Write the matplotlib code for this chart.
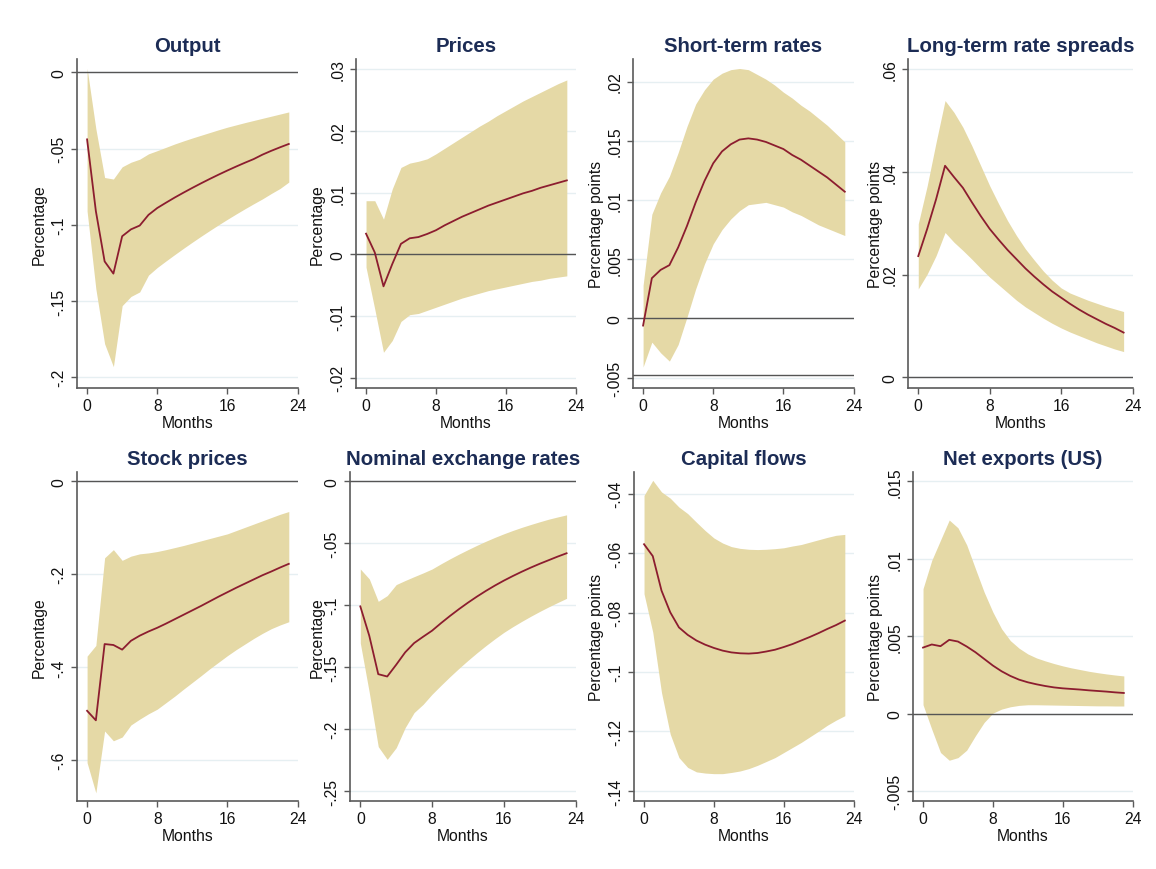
import matplotlib
matplotlib.use("Agg")
import matplotlib.pyplot as plt

plt.rcParams['font.family'] = ['Liberation Sans', 'DejaVu Sans']

months = list(range(24))
x_ticks = [0, 8, 16, 24]
x_tick_labels = ["0", "8", "16", "24"]

titles = ["Output", "Prices", "Short-term rates", "Long-term rate spreads",
          "Stock prices", "Nominal exchange rates", "Capital flows", "Net exports (US)"]
y_titles = ["Percentage", "Percentage", "Percentage points", "Percentage points",
            "Percentage", "Percentage", "Percentage points", "Percentage points"]

# ---- Output
output_irf = [-0.044, -0.091, -0.124, -0.132, -0.1075, -0.103, -0.1005, -0.0935, -0.089, -0.0855,
              -0.0821, -0.0789, -0.0758, -0.0728, -0.0699, -0.0671, -0.0644, -0.0618, -0.0593,
              -0.0569, -0.054, -0.0515, -0.0492, -0.047]
output_hi = [0.0026, -0.037, -0.069, -0.070, -0.062, -0.059, -0.057, -0.0535, -0.0514, -0.0492,
             -0.047, -0.045, -0.0431, -0.0413, -0.0395, -0.0377, -0.036, -0.0345, -0.033, -0.0316,
             -0.0302, -0.0288, -0.0274, -0.026]
output_lo = [-0.091, -0.142, -0.178, -0.193, -0.153, -0.147, -0.144, -0.133, -0.128, -0.1237,
             -0.1195, -0.1154, -0.1114, -0.1075, -0.1037, -0.1, -0.0964, -0.0929, -0.0895, -0.0862,
             -0.083, -0.0795, -0.0762, -0.072]
output_yticks = [0, -0.05, -0.1, -0.15, -0.2]
output_ylabels = ["0", "-.05", "-.1", "-.15", "-.2"]

# ---- Prices
prices_irf = [0.00335, 0.0003, -0.0052, -0.0016, 0.0017, 0.0026, 0.0028, 0.0033, 0.0039, 0.0047,
              0.0054, 0.0061, 0.0067, 0.0073, 0.0079, 0.0084, 0.0089, 0.0094, 0.0099, 0.0103,
              0.0108, 0.0112, 0.0116, 0.012]
prices_hi = [0.0087, 0.0087, 0.0057, 0.0106, 0.0141, 0.0148, 0.0151, 0.0155, 0.0163, 0.0172,
             0.0181, 0.019, 0.0199, 0.0208, 0.0216, 0.0225, 0.0233, 0.0241, 0.0249, 0.0256,
             0.0263, 0.027, 0.0277, 0.0283]
prices_lo = [-0.0021, -0.0089, -0.0159, -0.014, -0.0109, -0.0098, -0.0096, -0.0091, -0.0086,
             -0.0081, -0.0076, -0.0071, -0.0067, -0.0063, -0.0059, -0.0056, -0.0053, -0.005,
             -0.0047, -0.0044, -0.0042, -0.0039, -0.0037, -0.0035]
prices_yticks = [-0.02, -0.01, 0, 0.01, 0.02, 0.03]
prices_ylabels = ["-.02", "-.01", "0", ".01", ".02", ".03"]

# ---- Short-term rates
short_irf = [-0.0006, 0.0034, 0.0041, 0.0045, 0.006, 0.0078, 0.0098, 0.0116, 0.0131, 0.0141,
             0.0147, 0.0151, 0.0152, 0.0151, 0.0149, 0.0146, 0.0143, 0.0138, 0.0134, 0.0129,
             0.0124, 0.0119, 0.0113, 0.0107]
short_hi = [0.0028, 0.0088, 0.0106, 0.012, 0.014, 0.0162, 0.0181, 0.0193, 0.0202, 0.0207, 0.021,
            0.0211, 0.021, 0.0206, 0.0202, 0.0197, 0.0191, 0.0186, 0.018, 0.0175, 0.0169, 0.0163,
            0.0156, 0.0149]
short_lo = [-0.0041, -0.002, -0.0029, -0.0036, -0.0022, 0.0001, 0.0025, 0.0046, 0.0063, 0.0075,
            0.0084, 0.0091, 0.0096, 0.0097, 0.0098, 0.0096, 0.0094, 0.009, 0.0087, 0.0083,
            0.0079, 0.0076, 0.0073, 0.007]
short_yticks = [-0.005, 0, 0.005, 0.01, 0.015, 0.02]
short_ylabels = ["-.005", "0", ".005", ".01", ".015", ".02"]

# ---- Long-term rate spreads
long_irf = [0.0236, 0.0289, 0.0347, 0.0412, 0.039, 0.0369, 0.0341, 0.0314, 0.0289, 0.0268,
            0.0248, 0.023, 0.0212, 0.0196, 0.0181, 0.0167, 0.0155, 0.0143, 0.0132, 0.0122,
            0.0113, 0.0104, 0.0096, 0.0087]
long_hi = [0.0299, 0.0373, 0.0458, 0.0539, 0.0516, 0.0487, 0.0451, 0.0412, 0.0373, 0.0338,
           0.0305, 0.0276, 0.025, 0.0228, 0.0207, 0.0189, 0.0174, 0.0164, 0.0157, 0.015, 0.0144,
           0.0138, 0.0133, 0.0128]
long_lo = [0.0172, 0.0201, 0.0237, 0.0282, 0.0263, 0.0247, 0.023, 0.0212, 0.0195, 0.018, 0.0165,
           0.015, 0.0137, 0.0126, 0.0115, 0.0105, 0.0096, 0.0088, 0.0081, 0.0074, 0.0067,
           0.0061, 0.0055, 0.005]
long_yticks = [0, 0.02, 0.04, 0.06]
long_ylabels = ["0", ".02", ".04", ".06"]

# ---- Stock prices
stock_irf = [-0.4935, -0.514, -0.35, -0.352, -0.362, -0.343, -0.332, -0.323, -0.315, -0.306,
             -0.2965, -0.287, -0.2775, -0.268, -0.258, -0.248, -0.2385, -0.229, -0.22, -0.211,
             -0.202, -0.194, -0.1855, -0.1775]
stock_hi = [-0.376, -0.353, -0.1645, -0.147, -0.17, -0.161, -0.156, -0.154, -0.151, -0.147,
            -0.1425, -0.138, -0.133, -0.128, -0.123, -0.118, -0.113, -0.106, -0.099, -0.092,
            -0.085, -0.078, -0.071, -0.065]
stock_lo = [-0.605, -0.67, -0.537, -0.558, -0.55, -0.524, -0.5115, -0.5, -0.49, -0.476, -0.462,
            -0.447, -0.4325, -0.418, -0.403, -0.389, -0.375, -0.362, -0.35, -0.338, -0.327,
            -0.317, -0.309, -0.302]
stock_yticks = [0, -0.2, -0.4, -0.6]
stock_ylabels = ["0", "-.2", "-.4", "-.6"]

# ---- Nominal exchange rates
fx_irf = [-0.1009, -0.1246, -0.1556, -0.1575, -0.148, -0.138, -0.1305, -0.1254, -0.1205, -0.1144,
          -0.1086, -0.1031, -0.0979, -0.093, -0.0884, -0.0841, -0.0801, -0.0764, -0.0729,
          -0.0696, -0.0665, -0.0636, -0.0607, -0.058]
fx_hi = [-0.0707, -0.0787, -0.0968, -0.0922, -0.0833, -0.08, -0.0769, -0.0739, -0.0707, -0.0665,
         -0.0625, -0.0587, -0.0551, -0.0516, -0.0483, -0.0452, -0.0423, -0.0396, -0.0371,
         -0.0348, -0.0326, -0.0305, -0.0287, -0.027]
fx_lo = [-0.1305, -0.1704, -0.2141, -0.2244, -0.215, -0.1988, -0.1866, -0.18, -0.1718, -0.1646,
         -0.1576, -0.1509, -0.1445, -0.1384, -0.1326, -0.1271, -0.1219, -0.1173, -0.113,
         -0.1089, -0.105, -0.1013, -0.0978, -0.0944]
fx_yticks = [0, -0.05, -0.1, -0.15, -0.2, -0.25]
fx_ylabels = ["0", "-.05", "-.1", "-.15", "-.2", "-.25"]

# ---- Capital flows
cap_irf = [-0.057, -0.061, -0.0726, -0.0799, -0.085, -0.0875, -0.0894, -0.0908, -0.0919, -0.0928,
           -0.0934, -0.0937, -0.0938, -0.0936, -0.0931, -0.0925, -0.0916, -0.0906, -0.0894,
           -0.0882, -0.0869, -0.0855, -0.0842, -0.0827]
cap_hi = [-0.0406, -0.0355, -0.0394, -0.0415, -0.0445, -0.0467, -0.0496, -0.0524, -0.0549,
          -0.0566, -0.0578, -0.0584, -0.0587, -0.0588, -0.0587, -0.0585, -0.0582, -0.0576,
          -0.0571, -0.0563, -0.0555, -0.0547, -0.054, -0.0537]
cap_lo = [-0.0737, -0.0866, -0.1069, -0.1209, -0.1288, -0.1321, -0.1336, -0.134, -0.1342,
          -0.1342, -0.1338, -0.1333, -0.1325, -0.1314, -0.1301, -0.1288, -0.1271, -0.1254,
          -0.1237, -0.1218, -0.1199, -0.1179, -0.1162, -0.1147]
cap_yticks = [-0.04, -0.06, -0.08, -0.1, -0.12, -0.14]
cap_ylabels = ["-.04", "-.06", "-.08", "-.1", "-.12", "-.14"]

# ---- Net exports (US)
nx_irf = [0.00427, 0.00447, 0.00436, 0.00477, 0.00466, 0.00434, 0.00397, 0.00354, 0.00311,
          0.00274, 0.00244, 0.0022, 0.00203, 0.0019, 0.00179, 0.0017, 0.00164, 0.0016, 0.00156,
          0.00151, 0.00147, 0.00143, 0.00138, 0.00134]
nx_hi = [0.00807, 0.0099, 0.0112, 0.0125, 0.012, 0.0109, 0.00936, 0.00785, 0.00656, 0.00548,
         0.00472, 0.00423, 0.00386, 0.0036, 0.00341, 0.00324, 0.00309, 0.00296, 0.00285, 0.00274,
         0.00265, 0.00257, 0.0025, 0.00244]
nx_lo = [0.00058, -0.001, -0.0025, -0.003, -0.00283, -0.00235, -0.00142, -0.00056, 0.00004,
         0.0003, 0.00045, 0.00054, 0.00058, 0.00058, 0.00057, 0.00056, 0.00055, 0.00054, 0.00053,
         0.00052, 0.00051, 0.00051, 0.0005, 0.0005]
nx_yticks = [-0.005, 0, 0.005, 0.01, 0.015]
nx_ylabels = ["-.005", "0", ".005", ".01", ".015"]

series = [
    (output_irf, output_hi, output_lo, output_yticks, output_ylabels),
    (prices_irf, prices_hi, prices_lo, prices_yticks, prices_ylabels),
    (short_irf, short_hi, short_lo, short_yticks, short_ylabels),
    (long_irf, long_hi, long_lo, long_yticks, long_ylabels),
    (stock_irf, stock_hi, stock_lo, stock_yticks, stock_ylabels),
    (fx_irf, fx_hi, fx_lo, fx_yticks, fx_ylabels),
    (cap_irf, cap_hi, cap_lo, cap_yticks, cap_ylabels),
    (nx_irf, nx_hi, nx_lo, nx_yticks, nx_ylabels),
]

# layout (pixels) and axis ranges
W, H = 1156, 870
col_px = [(77, 298), (356, 576), (633, 854), (908, 1133),
          (77, 298), (350, 576), (634, 854), (913, 1133)]
row_px = [(60, 389)] * 4 + [(473, 802)] * 4
ylabel_x_px = [47, 325, 604, 883, 47, 325, 604, 883]
ylims = [(-0.207, 0.0087), (-0.0217, 0.0317), (-0.00587, 0.0219), (-0.0021, 0.062),
         (-0.6875, 0.02), (-0.258, 0.0076), (-0.1434, -0.0327), (-0.00563, 0.0156)]
zero_lines = [[0], [0], [0, -0.0048], [0], [0], [0], [], [0]]

band_color = "#e5d9a6"
line_color = "#8c1d2f"
title_color = "#1c2c55"
grid_color = "#e6eff2"
axis_color = "#5a5a5a"
fs = 11.3

fig = plt.figure(figsize=(W / 100, H / 100), dpi=100)
fig.patch.set_facecolor("white")

for i in range(8):
    irf, hi, lo, yt, yl = series[i]
    l, r = col_px[i]
    t, b = row_px[i]
    ax = fig.add_axes([l / W, 1 - b / H, (r - l) / W, (b - t) / H])
    ax.set_xlim(-1.15, 24.05)
    ax.set_ylim(*ylims[i])
    for g in yt:
        ax.axhline(g, color=grid_color, lw=1.0, zorder=0)
    ax.fill_between(months, lo, hi, color=band_color, lw=0, zorder=1)
    for z in zero_lines[i]:
        ax.axhline(z, color="#555555", lw=1.0, zorder=2)
    ax.plot(months, irf, color=line_color, lw=1.3, zorder=3)

    ax.set_xticks(x_ticks)
    ax.set_xticklabels(x_tick_labels)
    ax.set_yticks(yt)
    ax.set_yticklabels(yl, rotation=90, va="center")
    ax.tick_params(axis="both", labelsize=fs, length=4.5, width=1, color=axis_color,
                   labelcolor="#111111", pad=3)
    for s in ["top", "right"]:
        ax.spines[s].set_visible(False)
    for s in ["left", "bottom"]:
        ax.spines[s].set_color(axis_color)
        ax.spines[s].set_linewidth(1.2)

    ax.set_title(titles[i], fontsize=14.7, fontweight="bold", color=title_color, pad=6)
    ax.set_xlabel("Months", fontsize=fs, color="#111111", labelpad=1)
    ax.set_ylabel(y_titles[i], fontsize=fs, color="#111111")
    ax.yaxis.set_label_coords(ylabel_x_px[i] / W, 1 - ((t + b) / 2) / H, transform=fig.transFigure)

fig.savefig("out.png", dpi=100, facecolor="white")
